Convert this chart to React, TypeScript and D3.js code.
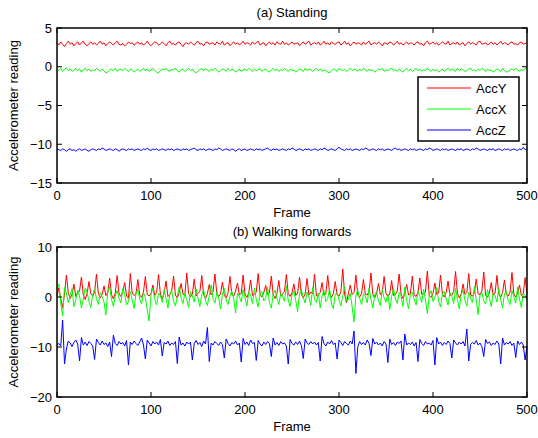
import React from "react";
import * as d3 from "d3";

// every second frame, frames 0..500
const FRAME_STEP = 2;

const standY = [
  3.1, 2.8, 3.2, 2.9, 2.6, 3.0, 3.3, 2.9, 3.1, 2.7,
  3.0, 3.2, 2.8, 3.1, 3.3, 2.9, 2.7, 3.0, 3.2, 2.9,
  3.1, 2.8, 3.0, 3.3, 2.9, 3.1, 2.7, 3.0, 3.2, 3.0,
  2.8, 3.1, 3.3, 2.9, 2.8, 3.0, 2.7, 2.9, 3.2, 3.0,
  3.1, 2.8, 3.0, 3.2, 2.9, 3.1, 2.8, 3.0, 3.3, 2.9,
  2.7, 3.0, 3.2, 3.1, 2.8, 2.9, 3.2, 3.0, 2.7, 3.1,
  3.3, 2.9, 3.0, 2.8, 3.1, 3.2, 2.9, 2.6, 3.0, 3.1,
  2.9, 3.2, 3.0, 2.8, 3.1, 3.3, 2.9, 3.0, 2.7, 3.1,
  3.2, 2.9, 3.0, 3.1, 2.8, 3.2, 3.0, 2.9, 3.3, 2.8,
  3.0, 3.1, 2.7, 3.0, 3.2, 2.9, 3.1, 2.8, 3.0, 3.3,
  2.9, 3.1, 3.0, 2.8, 3.2, 2.9, 3.1, 3.3, 2.8, 3.0,
  3.1, 2.7, 3.0, 3.2, 2.9, 3.1, 2.8, 3.2, 3.0, 2.9,
  3.3, 2.9, 3.1, 2.8, 3.0, 3.2, 2.9, 3.0, 3.1, 2.7,
  3.0, 3.2, 2.9, 3.1, 3.3, 2.8, 3.0, 3.1, 2.9, 3.2,
  2.8, 3.0, 3.3, 2.9, 3.1, 2.8, 3.2, 3.0, 2.9, 3.1,
  3.2, 2.8, 3.0, 3.3, 2.9, 3.1, 2.7, 3.0, 3.2, 2.9,
  3.1, 3.0, 2.8, 3.2, 2.9, 3.1, 3.3, 2.8, 3.0, 3.1,
  2.9, 3.2, 3.0, 2.7, 3.1, 3.0, 2.9, 3.2, 3.1, 2.8,
  3.0, 3.3, 2.9, 3.1, 2.8, 3.0, 3.2, 2.9, 3.1, 3.0,
  2.8, 3.1, 3.2, 2.9, 3.0, 2.7, 3.1, 3.3, 2.9, 3.0,
  3.2, 2.9, 3.1, 2.8, 3.0, 3.2, 3.0, 2.9, 3.3, 2.8,
  3.0, 3.1, 2.9, 3.2, 2.8, 3.0, 3.1, 2.7, 3.0, 3.2,
  2.9, 3.1, 3.0, 2.8, 3.2, 3.3, 2.9, 3.0, 3.1, 2.8,
  3.0, 3.2, 2.9, 3.1, 2.8, 3.0, 3.3, 2.9, 3.1, 3.0,
  2.8, 3.1, 3.2, 2.9, 3.0, 2.8, 3.1, 3.2, 2.9, 3.0,
  3.1,
];

const standX = [
  -0.3, -0.5, -0.2, -0.6, -0.4, -0.1, -0.5, -0.3, -0.6, -0.4,
  -0.2, -0.5, -0.3, -0.7, -0.4, -0.2, -0.5, -0.3, -0.6, -0.4,
  -0.5, -0.2, -0.4, -0.6, -0.3, -0.5, -0.8, -0.7, -0.4, -0.3,
  -0.5, -0.2, -0.6, -0.4, -0.3, -0.5, -0.2, -0.4, -0.6, -0.3,
  -0.4, -0.7, -0.5, -0.3, -0.6, -0.4, -0.2, -0.5, -0.3, -0.6,
  -0.4, -0.2, -0.5, -0.7, -0.8, -0.5, -0.3, -0.4, -0.2, -0.5,
  -0.6, -0.3, -0.4, -0.2, -0.5, -0.7, -0.4, -0.3, -0.6, -0.4,
  -0.2, -0.5, -0.3, -0.6, -0.8, -0.6, -0.4, -0.2, -0.5, -0.3,
  -0.4, -0.6, -0.3, -0.5, -0.2, -0.4, -0.7, -0.5, -0.3, -0.4,
  -0.6, -0.2, -0.5, -0.3, -0.4, -0.7, -0.5, -0.3, -0.6, -0.4,
  -0.3, -0.5, -0.2, -0.4, -0.6, -0.3, -0.5, -0.4, -0.2, -0.6,
  -0.4, -0.3, -0.5, -0.7, -0.4, -0.2, -0.5, -0.3, -0.6, -0.4,
  -0.5, -0.2, -0.4, -0.6, -0.3, -0.5, -0.4, -0.7, -0.5, -0.3,
  -0.4, -0.6, -0.2, -0.5, -0.3, -0.4, -0.6, -0.4, -0.2, -0.5,
  -0.3, -0.6, -0.4, -0.5, -0.7, -0.8, -0.5, -0.3, -0.4, -0.6,
  -0.2, -0.4, -0.5, -0.3, -0.6, -0.4, -0.2, -0.5, -0.3, -0.4,
  -0.6, -0.3, -0.5, -0.2, -0.4, -0.6, -0.3, -0.5, -0.4, -0.7,
  -0.5, -0.3, -0.4, -0.2, -0.6, -0.4, -0.5, -0.3, -0.2, -0.5,
  -0.4, -0.6, -0.3, -0.5, -0.7, -0.4, -0.2, -0.5, -0.3, -0.6,
  -0.4, -0.2, -0.5, -0.3, -0.6, -0.4, -0.5, -0.2, -0.4, -0.6,
  -0.3, -0.5, -0.4, -0.7, -0.5, -0.3, -0.6, -0.4, -0.2, -0.5,
  -0.3, -0.4, -0.6, -0.2, -0.5, -0.3, -0.4, -0.6, -0.5, -0.3,
  -0.2, -0.5, -0.4, -0.6, -0.3, -0.5, -0.2, -0.4, -0.6, -0.3,
  -0.5, -0.4, -0.7, -0.5, -0.3, -0.4, -0.6, -0.2, -0.5, -0.7,
  -0.6, -0.4, -0.3, -0.5, -0.2, -0.4, -0.6, -0.3, -0.5, -0.2,
  -0.3,
];

const standZ = [
  -10.6, -10.7, -10.8, -10.6, -10.7, -10.9, -10.7, -10.6, -10.8, -10.7,
  -10.9, -10.7, -10.6, -10.8, -10.7, -10.6, -10.8, -10.9, -10.7, -10.6,
  -10.7, -10.8, -10.6, -10.7, -10.5, -10.6, -10.8, -10.7, -10.6, -10.7,
  -10.8, -10.6, -10.7, -10.9, -10.7, -10.6, -10.7, -10.8, -10.6, -10.7,
  -10.6, -10.8, -10.7, -10.6, -10.7, -10.8, -10.6, -10.7, -10.5, -10.7,
  -10.8, -10.6, -10.7, -10.6, -10.8, -10.7, -10.6, -10.7, -10.8, -10.6,
  -10.7, -10.6, -10.8, -10.7, -10.6, -10.7, -10.8, -10.6, -10.7, -10.6,
  -10.8, -10.7, -10.6, -10.5, -10.7, -10.8, -10.6, -10.7, -10.6, -10.8,
  -10.7, -10.6, -10.7, -10.8, -10.6, -10.7, -10.5, -10.6, -10.8, -10.7,
  -10.6, -10.7, -10.8, -10.6, -10.7, -10.9, -10.7, -10.6, -10.8, -10.7,
  -10.6, -10.8, -10.7, -10.6, -10.7, -10.8, -10.6, -10.7, -10.6, -10.8,
  -10.7, -10.6, -10.5, -10.7, -10.8, -10.6, -10.7, -10.6, -10.8, -10.7,
  -10.6, -10.7, -10.8, -10.6, -10.7, -10.5, -10.6, -10.8, -10.7, -10.6,
  -10.7, -10.8, -10.6, -10.7, -10.6, -10.8, -10.7, -10.6, -10.7, -10.8,
  -10.6, -10.7, -10.5, -10.6, -10.8, -10.7, -10.6, -10.7, -10.8, -10.6,
  -10.4, -10.6, -10.7, -10.8, -10.6, -10.7, -10.6, -10.8, -10.7, -10.6,
  -10.7, -10.8, -10.6, -10.7, -10.5, -10.6, -10.8, -10.7, -10.6, -10.7,
  -10.8, -10.6, -10.7, -10.6, -10.8, -10.7, -10.6, -10.7, -10.8, -10.6,
  -10.5, -10.7, -10.6, -10.8, -10.7, -10.6, -10.7, -10.8, -10.6, -10.7,
  -10.6, -10.8, -10.7, -10.6, -10.7, -10.8, -10.6, -10.7, -10.5, -10.6,
  -10.8, -10.7, -10.6, -10.7, -10.8, -10.6, -10.7, -10.6, -10.8, -10.7,
  -10.6, -10.7, -10.8, -10.6, -10.7, -10.6, -10.8, -10.7, -10.6, -10.7,
  -10.8, -10.6, -10.7, -10.5, -10.6, -10.8, -10.7, -10.6, -10.7, -10.8,
  -10.6, -10.7, -10.6, -10.8, -10.7, -10.6, -10.7, -10.8, -10.6, -10.7,
  -10.6, -10.8, -10.7, -10.6, -10.7, -10.8, -10.6, -10.7, -10.4, -10.7,
  -10.6,
];

const walkY = [
  0.2, 1.8, -0.4, -2.1, 0.6, 4.4, 0.9, -0.3, 0.5, 2.6,
  0.1, 0.8, 1.2, 4.0, 0.4, -0.5, 0.7, 3.1, 0.6, 0.2,
  1.0, 4.6, 0.7, -0.2, 0.5, 2.2, 0.3, 0.9, 3.8, 0.5,
  -0.4, 0.8, 4.3, 0.6, 0.1, 1.1, 2.9, 0.2, -0.3, 4.7,
  0.8, 0.3, 0.6, 3.5, 0.4, -0.1, 1.0, 4.1, 0.5, 0.2,
  0.7, 2.4, 0.3, 0.9, 4.5, 0.6, -0.4, 0.8, 3.2, 0.1,
  0.5, 1.2, 4.2, 0.4, -0.2, 0.9, 2.7, 0.6, 0.3, 4.8,
  0.7, 0.0, 0.6, 3.6, 0.2, 0.8, 1.1, 4.3, 0.5, -0.3,
  0.7, 2.5, 0.4, 1.0, 4.6, 0.8, 0.1, 0.6, 3.0, 0.3,
  -0.2, 0.9, 4.1, 0.5, 0.2, 1.2, 2.8, 0.4, 0.7, 4.4,
  0.6, -0.1, 0.8, 3.4, 0.3, 0.5, 1.0, 4.7, 0.6, 0.0,
  0.9, 2.3, 0.5, 0.8, 4.2, 0.4, -0.3, 0.7, 3.3, 0.2,
  0.6, 1.1, 4.5, 0.7, 0.1, 0.9, 2.6, 0.3, 0.8, 4.0,
  0.5, -0.2, 0.6, 3.7, 0.4, 1.0, 0.7, 4.6, 0.2, 0.5,
  0.9, 2.9, 0.3, 0.6, 4.3, 0.8, -0.1, 0.7, 3.1, 0.4,
  0.2, 1.0, 5.6, 0.6, -1.2, 0.8, 2.4, 0.5, 0.9, 4.4,
  0.3, 0.0, 0.7, 3.5, 0.6, 0.4, 1.1, 4.8, 0.5, -0.2,
  0.8, 2.7, 0.4, 0.9, 4.1, 0.7, 0.1, 0.6, 3.3, 0.3,
  0.5, 1.2, 4.6, 0.6, -0.3, 0.8, 2.5, 0.4, 0.7, 4.2,
  0.4, 0.1, 0.9, 3.8, 0.5, 0.6, 1.0, 5.2, 0.3, -0.1,
  0.7, 2.8, 0.5, 0.8, 4.4, 0.6, 0.0, 0.9, 3.2, 0.4,
  0.3, 1.1, 5.1, 0.7, -0.2, 0.6, 2.6, 0.5, 0.9, 4.7,
  0.4, 0.2, 0.8, 3.6, 0.6, 0.5, 1.2, 5.0, 0.3, 0.0,
  0.8, 2.9, 0.4, 0.7, 4.3, 0.6, -0.1, 0.9, 3.4, 0.5,
  0.2, 1.0, 4.9, 0.6, 0.0, 0.8, 2.4, 0.3, 0.7, 3.9,
  0.5,
];

const walkX = [
  1.5, 2.6, -1.2, -3.8, 1.9, 0.8, -1.1, 0.4, 1.7, -1.9,
  -0.6, 1.4, 0.2, -2.2, -0.4, 1.8, 1.0, -0.9, -2.1, 0.5,
  1.6, -0.3, -1.5, 0.9, 0.1, -1.0, -3.6, 1.2, 2.0, -0.5,
  -1.9, 0.2, 1.3, -0.2, -1.2, 1.7, 0.5, -1.6, -0.9, 1.1,
  -0.6, -2.3, 0.6, 1.5, -0.4, -1.4, 0.9, -0.1, -2.6, -4.8,
  0.4, 1.8, -0.5, -1.6, 0.8, 0.3, -1.1, 1.5, -0.3, -2.2,
  0.6, 1.3, -0.8, -1.8, 0.1, 2.1, -0.2, -1.3, 0.7, -0.5,
  -2.1, 1.1, 0.2, -1.0, 1.6, -0.3, -1.9, 0.5, 1.4, -0.7,
  -1.7, 0.3, 2.4, -0.4, -1.2, 0.9, -0.2, -2.4, 0.6, 1.7,
  -0.6, -1.5, 0.2, 1.2, -0.4, -3.2, 0.8, 0.1, -1.0, 1.5,
  -0.2, -1.8, 0.9, 0.4, -1.3, 1.8, -0.5, -2.0, 0.5, 1.1,
  -0.8, -0.2, 1.9, -1.1, -2.2, 0.6, 1.4, -0.3, -1.5, 0.7,
  0.2, -0.9, 2.2, -0.6, -1.9, 0.4, 1.2, -0.7, -2.9, 0.6,
  1.5, -0.1, -1.2, 1.0, 0.0, -1.7, 1.9, -0.5, -1.1, 0.8,
  -2.2, 0.3, 1.3, -0.9, -0.3, 1.6, -1.4, -2.3, 0.6, 0.9,
  -0.6, -1.8, 0.3, 2.1, -0.9, -0.4, 0.8, -2.0, -5.0, 0.4,
  1.4, -0.3, -1.5, 0.7, 0.2, -1.2, 1.8, -0.5, -2.2, 0.5,
  1.1, -0.8, -1.7, 1.5, -0.2, -1.0, 0.6, -2.5, 0.1, 1.7,
  -0.4, -1.3, 0.9, 0.3, -1.9, 2.0, -0.7, -2.3, 0.5, 1.0,
  -0.5, -1.6, 1.2, 0.1, -1.1, 1.6, -0.6, -3.3, 0.3, 1.3,
  -0.9, -0.1, 1.9, -0.8, -2.0, 0.6, 1.1, -0.4, -1.6, 0.9,
  0.1, -1.3, 1.7, -0.5, -2.4, 0.5, 1.4, -0.7, -1.8, 1.0,
  -0.2, -1.1, 2.1, -0.6, -3.5, 0.4, 0.9, -0.8, -1.4, 1.5,
  -0.3, -1.9, 0.8, 0.3, -1.0, 1.7, -0.5, -2.2, 0.6, 1.2,
  -0.7, -1.5, 1.3, 0.0, -1.2, 2.0, -0.4, -2.1, 0.7, 0.4,
  -0.6,
];

const walkZ = [
  -9.6, -9.3, -9.8, -4.6, -13.4, -10.4, -8.8, -9.2, -9.9, -9.1,
  -8.6, -9.4, -12.8, -8.1, -9.6, -9.0, -9.7, -8.9, -9.3, -9.8,
  -12.5, -8.4, -9.1, -9.6, -8.8, -9.5, -9.2, -9.9, -9.0, -11.9,
  -7.6, -9.3, -9.7, -8.9, -9.4, -9.1, -9.8, -8.7, -13.6, -9.0,
  -9.5, -8.8, -9.3, -9.7, -9.0, -8.2, -9.6, -12.4, -8.6, -9.2,
  -9.8, -8.9, -9.4, -9.0, -9.6, -8.5, -11.8, -9.1, -9.4, -8.8,
  -9.7, -9.2, -9.5, -8.9, -13.3, -8.0, -9.6, -9.2, -9.8, -9.0,
  -9.4, -9.0, -12.6, -9.3, -8.7, -9.5, -9.1, -9.9, -8.8, -9.4,
  -6.1, -12.9, -9.2, -9.6, -8.9, -9.3, -9.7, -9.0, -9.5, -12.2,
  -8.4, -9.3, -9.8, -9.1, -9.4, -8.8, -9.6, -9.2, -13.0, -8.3,
  -9.5, -9.0, -9.7, -8.6, -9.3, -9.1, -12.7, -8.7, -9.4, -9.8,
  -9.0, -9.5, -8.9, -9.3, -11.9, -8.2, -9.6, -9.1, -9.7, -8.9,
  -9.4, -9.2, -9.8, -13.4, -8.5, -9.3, -9.6, -9.0, -9.5, -8.8,
  -9.7, -12.3, -8.4, -9.2, -9.5, -8.9, -9.4, -9.0, -9.6, -9.1,
  -12.8, -7.9, -9.3, -9.8, -9.0, -9.4, -8.7, -9.5, -9.2, -12.4,
  -8.6, -9.1, -9.7, -8.9, -9.3, -9.6, -8.8, -9.4, -6.8, -15.3,
  -9.9, -8.9, -9.5, -9.1, -9.6, -8.6, -9.3, -11.7, -8.3, -9.4,
  -9.0, -9.6, -9.2, -9.8, -8.9, -9.4, -13.1, -8.4, -9.5, -9.1,
  -9.7, -9.0, -9.3, -8.8, -12.6, -7.4, -9.6, -9.2, -9.5, -9.0,
  -9.8, -9.1, -12.9, -8.5, -9.3, -9.7, -8.9, -9.4, -9.2, -9.6,
  -8.7, -13.6, -8.1, -9.4, -9.0, -9.7, -9.1, -9.5, -8.8, -9.3,
  -12.2, -8.6, -9.2, -9.6, -9.0, -9.4, -8.9, -9.8, -6.4, -12.8,
  -9.5, -9.1, -9.4, -8.7, -9.6, -9.2, -9.9, -11.9, -8.5, -9.3,
  -9.0, -9.7, -9.2, -9.5, -8.8, -9.4, -13.4, -8.2, -9.6, -9.1,
  -9.4, -8.9, -9.7, -9.2, -12.1, -8.8, -9.5, -9.0, -9.6, -12.6,
  -9.8,
];

const xTicks = [0, 100, 200, 300, 400, 500];
const standTicks = [5, 0, -5, -10, -15];
const walkTicks = [10, 0, -10, -20];
const seriesNames = ["AccY", "AccX", "AccZ"];
const seriesColors = ["#ff0000", "#00ff00", "#0000ff"];

const FONT = "'Liberation Sans', Arial, Helvetica, sans-serif";
const fmt = (v) => (v < 0 ? "\u2212" + Math.abs(v) : String(v));

function Panel({ top, bottom, yDomain, yTicks, title, series, legend }) {
  const left = 57;
  const right = 527;
  const x = d3.scaleLinear().domain([0, 500]).range([left, right]);
  const y = d3.scaleLinear().domain(yDomain).range([bottom, top]);
  const line = d3
    .line()
    .x((d, i) => x(i * FRAME_STEP))
    .y((d) => y(d));
  const tk = 5;
  const midY = (top + bottom) / 2;

  return (
    <g fontFamily={FONT} fontSize={13} fill="#000">
      <text x={(left + right) / 2} y={top - 11} textAnchor="middle">{title}</text>

      {series.map((s, k) => (
        <path key={k} d={line(s)} fill="none" stroke={seriesColors[k]} strokeWidth={1} />
      ))}

      {xTicks.map((t) => (
        <g key={"x" + t}>
          <line x1={x(t)} x2={x(t)} y1={bottom} y2={bottom - tk} stroke="#000" />
          <line x1={x(t)} x2={x(t)} y1={top} y2={top + tk} stroke="#000" />
          <text x={x(t)} y={bottom + 17} textAnchor="middle">{t}</text>
        </g>
      ))}
      {yTicks.map((t) => (
        <g key={"y" + t}>
          <line x1={left} x2={left + tk} y1={y(t)} y2={y(t)} stroke="#000" />
          <line x1={right} x2={right - tk} y1={y(t)} y2={y(t)} stroke="#000" />
          <text x={left - 5} y={y(t) + 4.5} textAnchor="end">{fmt(t)}</text>
        </g>
      ))}

      <rect x={left} y={top} width={right - left} height={bottom - top} fill="none" stroke="#000" strokeWidth={1.5} />

      <text x={(left + right) / 2} y={bottom + 34} textAnchor="middle">Frame</text>
      <text transform={`translate(18,${midY}) rotate(-90)`} textAnchor="middle">Accelerometer reading</text>

      {legend && (
        <g>
          <rect x={418} y={77} width={101} height={64} fill="#fff" stroke="#000" strokeWidth={1.5} />
          {seriesNames.map((n, k) => (
            <g key={n}>
              <line x1={427} x2={471} y1={88 + k * 21} y2={88 + k * 21} stroke={seriesColors[k]} strokeWidth={1} />
              <text x={476} y={93 + k * 21}>{n}</text>
            </g>
          ))}
        </g>
      )}
    </g>
  );
}

export default function App() {
  return (
    <svg width={538} height={438} style={{ position: "absolute", left: 0, top: 0, background: "#fff" }}>
      <rect width={538} height={438} fill="#fff" />
      <Panel
        top={28}
        bottom={183}
        yDomain={[-15, 5]}
        yTicks={standTicks}
        title="(a) Standing"
        series={[standY, standX, standZ]}
        legend
      />
      <Panel
        top={247}
        bottom={397}
        yDomain={[-20, 10]}
        yTicks={walkTicks}
        title="(b) Walking forwards"
        series={[walkY, walkX, walkZ]}
        legend={false}
      />
    </svg>
  );
}
